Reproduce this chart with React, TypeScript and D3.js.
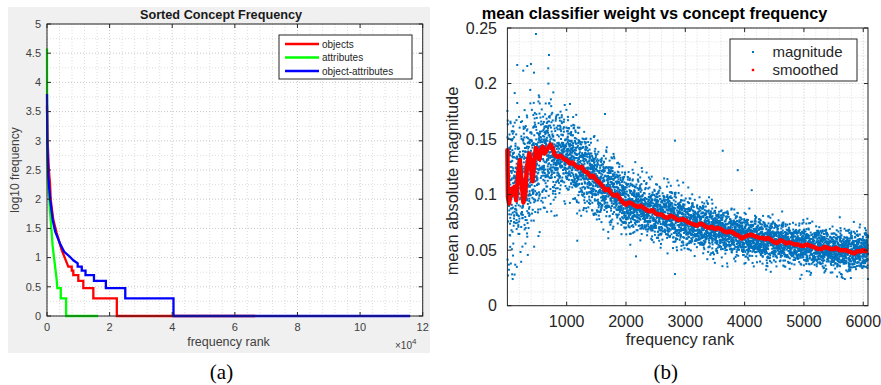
import React, { useMemo } from "react";
import * as d3 from "d3";

// ---------- Panel (a): sorted concept frequency (rank in 1e4, log10 frequency) ----------
const objectsRank = [0, 0.02, 0.06, 0.096, 0.12, 0.2, 0.31, 0.47, 0.68, 0.79, 0.79, 0.84, 0.84, 1.0, 1.0, 1.16, 1.16, 1.48, 1.48, 2.23, 2.23, 6.65];
const objectsLog = [3.6, 3.0, 2.5, 2.27, 1.99, 1.65, 1.42, 1.13, 0.845, 0.845, 0.778, 0.778, 0.699, 0.699, 0.602, 0.602, 0.477, 0.477, 0.301, 0.301, 0, 0];

const attributesRank = [0, 0.005, 0.02, 0.05, 0.074, 0.1, 0.15, 0.18, 0.26, 0.31, 0.33, 0.44, 0.44, 0.61, 0.61, 1.63];
const attributesLog = [4.58, 3.0, 2.4, 2.1, 1.99, 1.76, 1.42, 1.2, 0.84, 0.62, 0.477, 0.477, 0.301, 0.301, 0, 0];

const objAttrRank = [0, 0.01, 0.04, 0.1, 0.18, 0.26, 0.41, 0.55, 0.73, 0.85, 0.98, 0.98, 1.11, 1.11, 1.23, 1.23, 1.5, 1.5, 1.88, 1.88, 2.5, 2.5, 4.04, 4.04, 11.6];
const objAttrLog = [3.8, 3.0, 2.4, 2.0, 1.65, 1.45, 1.245, 1.1, 1.015, 0.95, 0.9, 0.845, 0.845, 0.778, 0.778, 0.699, 0.699, 0.602, 0.602, 0.477, 0.477, 0.301, 0.301, 0, 0];

const leftSeriesNames = ["objects", "attributes", "object-attributes"];
const leftSeriesColors = ["#ff0000", "#00ff00", "#0000ff"];
const leftXTicks = [0, 2, 4, 6, 8, 10, 12];
const leftYTicks = [0, 0.5, 1, 1.5, 2, 2.5, 3, 3.5, 4, 4.5, 5];

// ---------- Panel (b): mean classifier weight vs concept frequency ----------
const smoothRank = [1, 10, 30, 60, 90, 120, 150, 180, 210, 240, 270, 300, 330, 370, 400, 425, 450, 480, 510, 540, 570, 600, 630, 660, 700, 730, 760, 800, 850, 900, 950, 1000, 1050, 1100, 1150, 1200, 1250, 1300, 1350, 1400, 1450, 1500, 1550, 1600, 1650, 1700, 1750, 1800, 1850, 1900, 1950, 2000, 2050, 2100, 2150, 2200, 2250, 2300, 2350, 2400, 2450, 2500, 2550, 2600, 2650, 2700, 2750, 2800, 2850, 2900, 2950, 3000, 3050, 3100, 3150, 3200, 3250, 3300, 3350, 3400, 3450, 3500, 3550, 3600, 3650, 3700, 3750, 3800, 3850, 3900, 3950, 4000, 4050, 4100, 4150, 4200, 4250, 4300, 4350, 4400, 4450, 4500, 4550, 4600, 4650, 4700, 4750, 4800, 4850, 4900, 4950, 5000, 5050, 5100, 5150, 5200, 5250, 5300, 5350, 5400, 5450, 5500, 5550, 5600, 5650, 5700, 5750, 5800, 5850, 5900, 5950, 6000, 6040, 6080];
const smoothValue = [0.14, 0.098, 0.092, 0.105, 0.1, 0.107, 0.095, 0.118, 0.131, 0.112, 0.093, 0.1, 0.125, 0.137, 0.125, 0.112, 0.128, 0.142, 0.138, 0.132, 0.141, 0.143, 0.137, 0.14, 0.143, 0.145, 0.142, 0.136, 0.134, 0.135, 0.132, 0.131, 0.128, 0.129, 0.126, 0.124, 0.125, 0.121, 0.12, 0.116, 0.117, 0.113, 0.111, 0.108, 0.104, 0.105, 0.101, 0.099, 0.1, 0.096, 0.093, 0.091, 0.093, 0.092, 0.09, 0.089, 0.09, 0.088, 0.086, 0.085, 0.086, 0.083, 0.082, 0.082, 0.08, 0.079, 0.081, 0.08, 0.078, 0.077, 0.078, 0.077, 0.075, 0.074, 0.073, 0.072, 0.074, 0.073, 0.071, 0.07, 0.071, 0.069, 0.07, 0.069, 0.067, 0.066, 0.067, 0.066, 0.064, 0.063, 0.0605, 0.062, 0.063, 0.064, 0.063, 0.062, 0.061, 0.061, 0.06, 0.061, 0.059, 0.057, 0.0565, 0.059, 0.058, 0.056, 0.057, 0.056, 0.055, 0.055, 0.054, 0.054, 0.055, 0.054, 0.053, 0.052, 0.051, 0.051, 0.053, 0.052, 0.051, 0.051, 0.052, 0.05, 0.05, 0.05, 0.049, 0.048, 0.047, 0.049, 0.049, 0.05, 0.049];

// envelope of the blue cloud (median and spread per rank)
const cloudRank = [0, 100, 200, 300, 400, 500, 600, 700, 800, 1000, 1200, 1500, 2000, 2500, 3000, 3500, 4000, 4500, 5000, 5500, 6080];
const cloudCenter = [0.105, 0.108, 0.112, 0.116, 0.124, 0.133, 0.138, 0.14, 0.137, 0.134, 0.127, 0.113, 0.093, 0.084, 0.076, 0.069, 0.062, 0.058, 0.054, 0.051, 0.049];
const cloudSpread = [0.03, 0.03, 0.029, 0.028, 0.027, 0.025, 0.023, 0.021, 0.02, 0.018, 0.017, 0.015, 0.013, 0.012, 0.011, 0.0105, 0.0095, 0.009, 0.009, 0.009, 0.0095];
const outlierRank = [482, 702, 690, 167, 398, 336, 268, 449, 2826, 1646, 1056, 3631, 3884, 4120, 2826, 1179];
const outlierValue = [0.2446, 0.2257, 0.2137, 0.2167, 0.2176, 0.2158, 0.2116, 0.2098, 0.1486, 0.1726, 0.1816, 0.1395, 0.122, 0.104, 0.0285, 0.0585];
const conceptCount = 6080;

const rightXTicks = [1000, 2000, 3000, 4000, 5000, 6000];
const rightYTicks = [0, 0.05, 0.1, 0.15, 0.2, 0.25];

const SANS = "'Liberation Sans', Arial, Helvetica, sans-serif";

function interp(xs: number[], ys: number[], x: number) {
  const i = Math.max(1, Math.min(xs.length - 1, d3.bisectRight(xs, x)));
  const x0 = xs[i - 1], x1 = xs[i];
  const t = x1 === x0 ? 0 : Math.max(0, Math.min(1, (x - x0) / (x1 - x0)));
  return ys[i - 1] + t * (ys[i] - ys[i - 1]);
}

function LeftPanel() {
  const x = d3.scaleLinear().domain([0, 12]).range([47, 422.7]);
  const y = d3.scaleLinear().domain([0, 5]).range([316, 24]);
  const line = d3.line<[number, number]>().x((d) => x(d[0])).y((d) => y(d[1]));
  const series = [
    objectsRank.map((r, i) => [r, objectsLog[i]] as [number, number]),
    attributesRank.map((r, i) => [r, attributesLog[i]] as [number, number]),
    objAttrRank.map((r, i) => [r, objAttrLog[i]] as [number, number]),
  ];
  const minorX = d3.range(0, 12.001, 0.4);
  const minorY = d3.range(0, 5.001, 0.25);
  const [x0, x1] = x.range();
  const [y0, y1] = y.range();
  return (
    <g>
      <rect x={8} y={7} width={422} height={346} fill="#f0f0f0" />
      <rect x={x0} y={y1} width={x1 - x0} height={y0 - y1} fill="#ffffff" />
      {minorX.map((v, i) => (
        <line key={"gx" + i} x1={x(v)} x2={x(v)} y1={y0} y2={y1} stroke={i % 5 === 0 ? "#bdbdbd" : "#d6d6d6"} strokeWidth={0.8} strokeDasharray="1 2" />
      ))}
      {minorY.map((v, i) => (
        <line key={"gy" + i} x1={x0} x2={x1} y1={y(v)} y2={y(v)} stroke={i % 2 === 0 ? "#bdbdbd" : "#d6d6d6"} strokeWidth={0.8} strokeDasharray="1 2" />
      ))}
      {series.map((s, i) => (
        <path key={"s" + i} d={line(s) || ""} fill="none" stroke={leftSeriesColors[i]} strokeWidth={2.3} strokeLinejoin="miter" />
      ))}
      <rect x={x0} y={y1} width={x1 - x0} height={y0 - y1} fill="none" stroke="#262626" strokeWidth={1} />
      {leftXTicks.map((v) => (
        <g key={"xt" + v}>
          <line x1={x(v)} x2={x(v)} y1={y0} y2={y0 - 4} stroke="#262626" />
          <line x1={x(v)} x2={x(v)} y1={y1} y2={y1 + 4} stroke="#262626" />
          <text x={x(v)} y={331} textAnchor="middle" fontSize={11} fill="#404040" fontFamily={SANS}>{v}</text>
        </g>
      ))}
      {leftYTicks.map((v) => (
        <g key={"yt" + v}>
          <line x1={x0} x2={x0 + 4} y1={y(v)} y2={y(v)} stroke="#262626" />
          <line x1={x1} x2={x1 - 4} y1={y(v)} y2={y(v)} stroke="#262626" />
          <text x={41} y={y(v)} dy="0.35em" textAnchor="end" fontSize={11} fill="#404040" fontFamily={SANS}>{v}</text>
        </g>
      ))}
      <text x={221} y={19} textAnchor="middle" fontSize={12.7} fontWeight="bold" fill="#1a1a1a" fontFamily={SANS}>Sorted Concept Frequency</text>
      <text transform="translate(19,170) rotate(-90)" textAnchor="middle" fontSize={12} fill="#404040" fontFamily={SANS}>log10 frequency</text>
      <text x={228.5} y={346} textAnchor="middle" fontSize={12.5} fill="#404040" fontFamily={SANS}>frequency rank</text>
      <text x={395} y={349} fontSize={10} fill="#404040" fontFamily={SANS}>×10<tspan dy={-5} fontSize={8}>4</tspan></text>
      <rect x={279} y={35} width={133} height={44} fill="#ffffff" stroke="#262626" strokeWidth={1} />
      {leftSeriesNames.map((n, i) => (
        <g key={"lg" + i}>
          <line x1={285} x2={319} y1={44 + i * 13.5} y2={44 + i * 13.5} stroke={leftSeriesColors[i]} strokeWidth={2.5} />
          <text x={322} y={44 + i * 13.5} dy="0.35em" fontSize={10} fill="#262626" fontFamily={SANS}>{n}</text>
        </g>
      ))}
      <text x={221.5} y={379} textAnchor="middle" fontSize={21} fill="#000" fontFamily="'Liberation Serif', 'Times New Roman', serif">(a)</text>
    </g>
  );
}

function RightPanel() {
  const x = d3.scaleLinear().domain([1, 6080]).range([507.4, 868]);
  const y = d3.scaleLinear().domain([0, 0.25]).range([305.7, 28]);
  const [x0, x1] = x.range();
  const [y0, y1] = y.range();

  const cloud = useMemo(() => {
    const rng = d3.randomLcg(0.3141);
    const norm = d3.randomNormal.source(rng)(0, 1);
    const pts: [number, number][] = [];
    for (let r = 1; r <= conceptCount; r++) {
      const c = interp(cloudRank, cloudCenter, r);
      const s = interp(cloudRank, cloudSpread, r);
      let v = c + s * norm();
      v = Math.max(0.024, Math.min(0.2, v));
      pts.push([r, v]);
    }
    outlierRank.forEach((r, i) => pts.push([r, outlierValue[i]]));
    return pts;
  }, []);

  const smooth = smoothRank.map((r, i) => [r, smoothValue[i]] as [number, number]);
  const line = d3.line<[number, number]>().x((d) => x(d[0])).y((d) => y(d[1]));
  const minorX = d3.range(200, 6080, 200);
  const minorY = d3.range(0, 0.2501, 0.0125);

  return (
    <g>
      <rect x={x0} y={y1} width={x1 - x0} height={y0 - y1} fill="#ffffff" />
      {minorX.map((v, i) => (
        <line key={"gx" + i} x1={x(v)} x2={x(v)} y1={y0} y2={y1} stroke={v % 1000 === 0 ? "#bdbdbd" : "#d6d6d6"} strokeWidth={0.8} strokeDasharray="1 2" />
      ))}
      {minorY.map((v, i) => (
        <line key={"gy" + i} x1={x0} x2={x1} y1={y(v)} y2={y(v)} stroke={i % 4 === 0 ? "#bdbdbd" : "#d6d6d6"} strokeWidth={0.8} strokeDasharray="1 2" />
      ))}
      <g fill="#0072bd">
        {cloud.map((p, i) => (
          <rect key={i} x={x(p[0]) - 1} y={y(p[1]) - 1} width={2} height={2} />
        ))}
      </g>
      <path d={line(smooth) || ""} fill="none" stroke="#ff0000" strokeWidth={4.5} strokeLinejoin="round" strokeLinecap="round" />
      <rect x={x0} y={y1} width={x1 - x0} height={y0 - y1} fill="none" stroke="#262626" strokeWidth={1} />
      {rightXTicks.map((v) => (
        <g key={"xt" + v}>
          <line x1={x(v)} x2={x(v)} y1={y0} y2={y0 - 4} stroke="#262626" />
          <line x1={x(v)} x2={x(v)} y1={y1} y2={y1 + 4} stroke="#262626" />
          <text x={x(v)} y={327} textAnchor="middle" fontSize={16} fill="#262626" fontFamily={SANS}>{v}</text>
        </g>
      ))}
      {rightYTicks.map((v) => (
        <g key={"yt" + v}>
          <line x1={x0} x2={x0 + 4} y1={y(v)} y2={y(v)} stroke="#262626" />
          <line x1={x1} x2={x1 - 4} y1={y(v)} y2={y(v)} stroke="#262626" />
          <text x={497} y={y(v)} dy="0.35em" textAnchor="end" fontSize={16} fill="#262626" fontFamily={SANS}>{v}</text>
        </g>
      ))}
      <text x={654.5} y={18.5} textAnchor="middle" fontSize={16.3} fontWeight="bold" fill="#000" fontFamily={SANS}>mean classifier weight vs concept frequency</text>
      <text transform="translate(458,181) rotate(-90)" textAnchor="middle" fontSize={16.4} fill="#262626" fontFamily={SANS}>mean absolute magnitude</text>
      <text x={680} y={345} textAnchor="middle" fontSize={16.4} fill="#262626" fontFamily={SANS}>frequency rank</text>
      <rect x={730} y={39} width={127} height={42} fill="#ffffff" stroke="#262626" strokeWidth={1} />
      <rect x={752} y={51} width={2} height={2} fill="#0072bd" />
      <rect x={751.8} y={68.8} width={2.4} height={2.4} fill="#ff0000" />
      <text x={772.5} y={52} dy="0.35em" fontSize={15} fill="#262626" fontFamily={SANS}>magnitude</text>
      <text x={772.5} y={70} dy="0.35em" fontSize={15} fill="#262626" fontFamily={SANS}>smoothed</text>
      <text x={665.7} y={379} textAnchor="middle" fontSize={21} fill="#000" fontFamily="'Liberation Serif', 'Times New Roman', serif">(b)</text>
    </g>
  );
}

export default function App() {
  return (
    <svg width={881} height={385} viewBox="0 0 881 385" style={{ position: "absolute", left: 0, top: 0, background: "#ffffff" }}>
      <LeftPanel />
      <RightPanel />
    </svg>
  );
}
